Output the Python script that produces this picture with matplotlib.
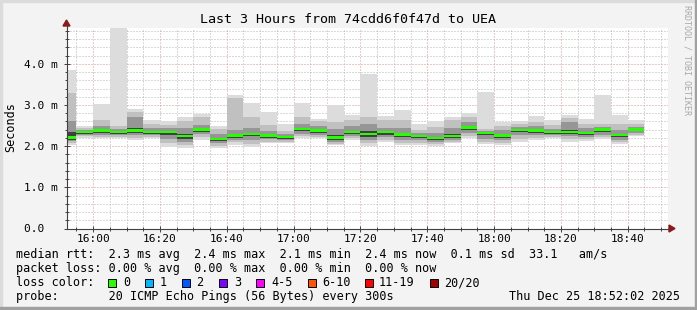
import numpy as np
import pandas as pd
import matplotlib
matplotlib.use("Agg")
import matplotlib.pyplot as plt
import matplotlib.dates as mdates
from matplotlib.patches import Rectangle, Polygon
import datetime as dt

# smoke data, one entry per 5 minute step (ms)
bar_start = pd.date_range("2025-12-25 15:50", periods=35, freq="5min")
rtt_max = [3.85, 2.49, 3.02, 4.90, 2.91, 2.63, 2.60, 2.70, 2.78, 2.50, 3.24, 3.05, 2.82, 2.54, 3.04, 2.67, 3.00, 2.75,
           3.75, 2.74, 2.88, 2.54, 2.61, 2.71, 2.81, 3.32, 2.59, 2.61, 2.73, 2.63, 2.75, 2.66, 3.24, 2.75, 2.63]
rtt_p90 = [3.30, 2.45, 2.63, 2.49, 2.84, 2.54, 2.52, 2.60, 2.70, 2.42, 3.18, 2.71, 2.51, 2.37, 2.71, 2.62, 2.59, 2.63,
           2.71, 2.63, 2.63, 2.39, 2.47, 2.63, 2.71, 2.41, 2.50, 2.55, 2.59, 2.51, 2.69, 2.55, 2.54, 2.55, 2.55]
rtt_p75 = [2.60, 2.40, 2.50, 2.42, 2.71, 2.44, 2.44, 2.45, 2.51, 2.30, 2.40, 2.45, 2.37, 2.30, 2.55, 2.50, 2.42, 2.50,
           2.55, 2.45, 2.45, 2.31, 2.33, 2.45, 2.58, 2.36, 2.40, 2.47, 2.48, 2.41, 2.58, 2.43, 2.47, 2.40, 2.47]
rtt_p60 = [2.35, 2.36, 2.41, 2.37, 2.45, 2.37, 2.37, 2.30, 2.43, 2.21, 2.30, 2.33, 2.29, 2.24, 2.45, 2.41, 2.27, 2.38,
           2.38, 2.36, 2.32, 2.26, 2.23, 2.29, 2.49, 2.33, 2.30, 2.41, 2.40, 2.36, 2.39, 2.35, 2.42, 2.30, 2.42]
rtt_median = [2.20, 2.33, 2.37, 2.34, 2.37, 2.33, 2.33, 2.24, 2.39, 2.17, 2.25, 2.29, 2.25, 2.21, 2.41, 2.37, 2.20, 2.33,
              2.29, 2.33, 2.27, 2.24, 2.19, 2.24, 2.44, 2.31, 2.25, 2.38, 2.37, 2.33, 2.33, 2.31, 2.39, 2.26, 2.39]
rtt_p40 = [2.16, 2.30, 2.33, 2.30, 2.33, 2.30, 2.27, 2.18, 2.35, 2.13, 2.21, 2.24, 2.21, 2.18, 2.36, 2.33, 2.16, 2.29,
           2.23, 2.28, 2.22, 2.20, 2.15, 2.20, 2.39, 2.26, 2.21, 2.34, 2.33, 2.30, 2.29, 2.27, 2.34, 2.22, 2.36]
rtt_p25 = [2.12, 2.27, 2.28, 2.26, 2.28, 2.27, 2.18, 2.10, 2.30, 2.07, 2.16, 2.16, 2.17, 2.14, 2.30, 2.28, 2.11, 2.24,
           2.15, 2.22, 2.15, 2.14, 2.10, 2.15, 2.32, 2.18, 2.15, 2.27, 2.27, 2.27, 2.24, 2.22, 2.28, 2.16, 2.32]
rtt_p10 = [2.08, 2.24, 2.23, 2.22, 2.21, 2.23, 2.07, 2.02, 2.22, 2.01, 2.09, 2.06, 2.11, 2.10, 2.24, 2.23, 2.06, 2.19,
           2.07, 2.16, 2.08, 2.08, 2.05, 2.11, 2.25, 2.10, 2.08, 2.18, 2.20, 2.23, 2.17, 2.17, 2.22, 2.10, 2.28]
rtt_min = [2.03, 2.21, 2.19, 2.19, 2.15, 2.19, 1.99, 1.96, 2.15, 1.96, 2.03, 1.99, 2.07, 2.07, 2.19, 2.19, 2.03, 2.15,
           2.01, 2.11, 2.03, 2.03, 2.01, 2.08, 2.19, 2.05, 2.03, 2.11, 2.15, 2.19, 2.11, 2.13, 2.17, 2.05, 2.25]

ytick_vals = [0, 1, 2, 3, 4]
ytick_labels = ["0.0  ", "1.0 m", "2.0 m", "3.0 m", "4.0 m"]

title = "Last 3 Hours from 74cdd6f0f47d to UEA"
legend_rtt = "median rtt:  2.3 ms avg  2.4 ms max  2.1 ms min  2.4 ms now  0.1 ms sd  33.1   am/s"
legend_loss = "packet loss: 0.00 % avg  0.00 % max  0.00 % min  0.00 % now"
probe_text = "probe:       20 ICMP Echo Pings (56 Bytes) every 300s"
stamp_text = "Thu Dec 25 18:52:02 2025"
loss_labels = ["0", "1", "2", "3", "4-5", "6-10", "11-19", "20/20"]
loss_colors = ["#26ff00", "#00b8ff", "#0059ff", "#7e00ff", "#ff00ff", "#ff5500", "#ff0000", "#a10000"]

W, H = 697, 310
def fx(x):
    return x / W
def fy(y):
    return 1 - y / H

mono = "DejaVu Sans Mono"
fig = plt.figure(figsize=(W / 100, H / 100), dpi=100, facecolor="#f3f3f3")

# frame bevel
fig.patches.append(Rectangle((0, fy(2)), 1, 2 / H, transform=fig.transFigure, color="#dcdcdc", zorder=0))
fig.patches.append(Rectangle((0, 0), 2 / W, 1, transform=fig.transFigure, color="#dcdcdc", zorder=0))
fig.patches.append(Rectangle((0, 0), 1, 3 / H, transform=fig.transFigure, color="#a0a0a0", zorder=0))
fig.patches.append(Rectangle((fx(695), 0), 2 / W, 1, transform=fig.transFigure, color="#a0a0a0", zorder=0))

ax = fig.add_axes([fx(66.5), fy(228.5), (668 - 66.5) / W, (228.5 - 28) / H])
ax.set_facecolor("white")

w = 5 / 1440
layers = [
    (rtt_min, rtt_max, "#dcdcdc"),
    (rtt_p10, rtt_p90, "#c0c0c0"),
    (rtt_p25, rtt_p75, "#969696"),
    (rtt_p40, rtt_p60, "#404040"),
]
for lo, hi, col in layers:
    lo = np.array(lo)
    hi = np.array(hi)
    ax.bar(bar_start, hi - lo, bottom=lo, width=w, align="edge", color=col, linewidth=0, zorder=2)
med = np.array(rtt_median)
ax.bar(bar_start, 0.06, bottom=med - 0.02, width=w, align="edge", color=loss_colors[0], linewidth=0, zorder=3)

ax.set_xlim(dt.datetime(2025, 12, 25, 15, 52, 2), dt.datetime(2025, 12, 25, 18, 52, 2))
ax.set_ylim(0, 4.87)
ax.xaxis.set_major_locator(mdates.MinuteLocator(byminute=[0, 20, 40]))
ax.xaxis.set_minor_locator(mdates.MinuteLocator(byminute=range(0, 60, 5)))
ax.xaxis.set_major_formatter(mdates.DateFormatter("%H:%M"))
ax.set_yticks(ytick_vals)
ax.set_yticklabels(ytick_labels)
ax.set_yticks(np.arange(0, 4.9, 0.2), minor=True)

ax.set_axisbelow(True)
ax.grid(which="minor", color="#b4b4b4", linestyle=(0, (1, 2)), linewidth=0.72, zorder=0)
ax.grid(which="major", color="#e69090", linestyle=(0, (1, 2)), linewidth=0.72, zorder=0)

for s in ["top", "right"]:
    ax.spines[s].set_visible(False)
for s in ["left", "bottom"]:
    ax.spines[s].set_color("#404040")
    ax.spines[s].set_linewidth(0.8)
    ax.spines[s].set_zorder(5)
ax.tick_params(which="both", direction="inout", color="#404040", width=0.7, length=4)
ax.tick_params(which="minor", length=3)
ax.tick_params(axis="y", which="major", pad=4)
ax.tick_params(axis="x", which="major", pad=2)
for lab in ax.get_xticklabels() + ax.get_yticklabels():
    lab.set_fontfamily(mono)
    lab.set_fontsize(8)
    lab.set_color("#000000")

# axis extensions and arrows
fig.add_artist(plt.Line2D([fx(66.5), fx(66.5)], [fy(28), fy(23)], color="#404040", lw=0.8))
fig.add_artist(plt.Line2D([fx(668), fx(671)], [fy(228.5), fy(228.5)], color="#404040", lw=0.8))
fig.patches.append(Polygon([(fx(63), fy(26)), (fx(70), fy(26)), (fx(66.5), fy(20))],
                           transform=fig.transFigure, color="#8b1a1a", zorder=6))
fig.patches.append(Polygon([(fx(669), fy(225)), (fx(669), fy(232)), (fx(675), fy(228.5))],
                           transform=fig.transFigure, color="#8b1a1a", zorder=6))

fig.text(fx(347.5), fy(19.5), title, family=mono, size=9.6, ha="center", va="center", color="#000000")
fig.text(fx(10.5), fy(127), "Seconds", family=mono, size=8.5, rotation=90, ha="center", va="center")
fig.text(fx(687), fy(60), "RRDTOOL / TOBI OETIKER", family=mono, size=6, rotation=270,
         ha="center", va="center", color="#a8a8a8")

fig.text(fx(16), fy(254.5), legend_rtt, family=mono, size=8.5, va="center")
fig.text(fx(16), fy(268.5), legend_loss, family=mono, size=8.5, va="center")
fig.text(fx(16), fy(282.7), "loss color:", family=mono, size=8.5, va="center")
fig.text(fx(16), fy(296.5), probe_text, family=mono, size=8.5, va="center")
fig.text(fx(680), fy(296.5), stamp_text, family=mono, size=8.5, va="center", ha="right")

box_x = [108, 145.3, 182.2, 219.1, 256.4, 307.6, 365.3, 430.2]
lab_x = [123.6, 160, 196.4, 234.2, 271.1, 321.8, 378.7, 444.4]
for bx, lx, lab, col in zip(box_x, lab_x, loss_labels, loss_colors):
    fig.patches.append(Rectangle((fx(bx), fy(287)), 8 / W, 8 / H, transform=fig.transFigure,
                                 facecolor=col, edgecolor="black", linewidth=0.7, zorder=6))
    fig.text(fx(lx), fy(282.7), lab, family=mono, size=8.5, va="center")

fig.savefig("out.png", dpi=100, facecolor=fig.get_facecolor())
